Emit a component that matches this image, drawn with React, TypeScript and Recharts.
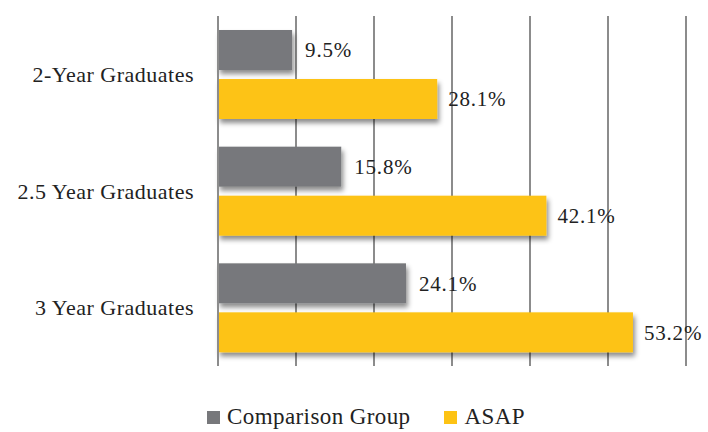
import { BarChart, Bar, XAxis, YAxis, CartesianGrid, LabelList, Legend } from 'recharts'

const categories = ['2-Year Graduates', '2.5 Year Graduates', '3 Year Graduates']
const comparisonGroup = [9.5, 15.8, 24.1]
const asap = [28.1, 42.1, 53.2]
const xTicks = [0, 10, 20, 30, 40, 50, 60]

const FONT = 'Liberation Serif'
const GRAY = '#77787b'
const YELLOW = '#fdc314'

const chartData = categories.map((name, i) => ({
  name,
  comparison: comparisonGroup[i],
  asap: asap[i],
}))

function ShadowRect(props: { x?: number; y?: number; width?: number; height?: number; fill?: string }) {
  const { x = 0, y = 0, width = 0, height = 0, fill } = props
  return <rect x={x} y={y} width={width} height={height} fill={fill} filter="url(#barShadow)" />
}

function LegendContent() {
  const items = [
    { label: 'Comparison Group', color: GRAY },
    { label: 'ASAP', color: YELLOW },
  ]
  return (
    <div style={{ display: 'flex', justifyContent: 'center', gap: 34, fontFamily: FONT, fontSize: 23, letterSpacing: 0.4, color: '#222', paddingLeft: 46 }}>
      {items.map((item) => (
        <div key={item.label} style={{ display: 'flex', alignItems: 'center', gap: 7 }}>
          <span style={{ width: 13, height: 13, background: item.color, display: 'inline-block' }} />
          <span>{item.label}</span>
        </div>
      ))}
    </div>
  )
}

const labelProps = { fontFamily: FONT, fontSize: 21, fill: '#222', letterSpacing: 0.8 }

export default function App() {
  return (
    <div style={{ position: 'absolute', left: 0, top: 0, background: '#fff', fontFamily: FONT }}>
      <BarChart
        width={708}
        height={432}
        data={chartData}
        layout="vertical"
        margin={{ top: 16, right: 22, bottom: 40, left: 0 }}
        barCategoryGap="12%"
        barGap={9}
      >
        <defs>
          <filter id="barShadow" x="-5%" y="-20%" width="115%" height="160%">
            <feDropShadow dx="2" dy="4" stdDeviation="2.5" floodColor="#000" floodOpacity="0.45" />
          </filter>
        </defs>
        <CartesianGrid horizontal={false} stroke="#8c8c8c" strokeWidth={2} />
        <XAxis type="number" domain={[0, 60]} ticks={xTicks} hide />
        <YAxis
          type="category"
          dataKey="name"
          width={218}
          axisLine={{ stroke: '#8c8c8c', strokeWidth: 2 }}
          tickLine={false}
          tickMargin={18}
          tick={{ fontFamily: FONT, fontSize: 22, fill: '#222', letterSpacing: 0.5 }}
        />
        <Legend
          verticalAlign="bottom"
          wrapperStyle={{ bottom: 2 }}
          content={<LegendContent />}
        />
        <Bar dataKey="comparison" name="Comparison Group" fill={GRAY} isAnimationActive={false} shape={<ShadowRect />}>
          <LabelList
            dataKey="comparison"
            position="right"
            offset={13}
            formatter={(v: number) => v.toFixed(1) + '%'}
            {...labelProps}
          />
        </Bar>
        <Bar dataKey="asap" name="ASAP" fill={YELLOW} isAnimationActive={false} shape={<ShadowRect />}>
          <LabelList
            dataKey="asap"
            position="right"
            offset={11}
            formatter={(v: number) => v.toFixed(1) + '%'}
            {...labelProps}
          />
        </Bar>
      </BarChart>
    </div>
  )
}
